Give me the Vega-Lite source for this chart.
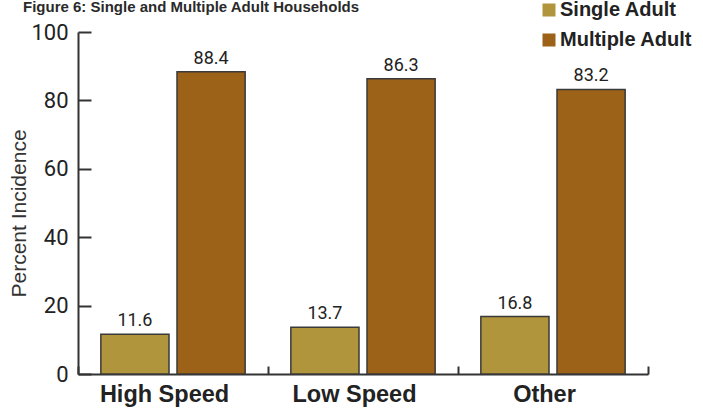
{
  "$schema": "https://vega.github.io/schema/vega-lite/v6.json",
  "width": 570,
  "height": 342,
  "autosize": {"type": "none"},
  "padding": {"left": 78, "top": 32, "right": 55, "bottom": 38},
  "background": "white",
  "title": {
    "text": "Figure 6: Single and Multiple Adult Households",
    "anchor": "start",
    "frame": "group",
    "dx": -55,
    "font": "Liberation Sans",
    "fontSize": 15,
    "fontWeight": "bold",
    "color": "#2a2a2a",
    "baseline": "bottom",
    "offset": 0,
    "dy": 30
  },
  "config": {
    "view": {"stroke": null},
    "legend": {
      "orient": "none",
      "legendX": 461,
      "legendY": -32,
      "title": null,
      "symbolType": "square",
      "symbolSize": 169,
      "symbolStrokeWidth": 0,
      "labelFont": "Liberation Sans",
      "labelFontSize": 20,
      "labelFontWeight": "bold",
      "labelColor": "#222",
      "rowPadding": 10,
      "labelOffset": 1
    }
  },
  "data": {
    "values": [
      {"type": "High Speed", "group": "Single Adult", "value": 11.6},
      {"type": "High Speed", "group": "Multiple Adult", "value": 88.4},
      {"type": "Low Speed", "group": "Single Adult", "value": 13.7},
      {"type": "Low Speed", "group": "Multiple Adult", "value": 86.3},
      {"type": "Other", "group": "Single Adult", "value": 16.8},
      {"type": "Other", "group": "Multiple Adult", "value": 83.2}
    ]
  },
  "encoding": {
    "x": {
      "field": "type",
      "type": "nominal",
      "sort": ["High Speed", "Low Speed", "Other"],
      "scale": {"paddingInner": 0, "paddingOuter": 0},
      "axis": {
        "title": null,
        "labelAngle": 0,
        "labelFont": "Liberation Sans",
        "labelFontSize": 23.5,
        "labelFontWeight": "bold",
        "labelColor": "#222",
        "labelPadding": 16,
        "labelOffset": -9,
        "domainColor": "#333",
        "domainWidth": 2,
        "tickColor": "#333",
        "tickWidth": 2,
        "tickSize": -8,
        "tickBand": "extent"
      }
    },
    "xOffset": {
      "field": "group",
      "type": "nominal",
      "sort": ["Single Adult", "Multiple Adult"],
      "scale": {"paddingInner": 0.105, "paddingOuter": 0.3}
    }
  },
  "layer": [
    {
      "mark": {"type": "bar", "stroke": "#3a3a3a", "strokeWidth": 1.5},
      "encoding": {
        "y": {
          "field": "value",
          "type": "quantitative",
          "scale": {"domain": [0, 100]},
          "axis": {
            "title": "Percent Incidence",
            "titleFont": "Liberation Sans",
            "titleFontSize": 21,
            "titleFontWeight": "normal",
            "titleColor": "#333",
            "titlePadding": 1,
            "titleY": 181,
            "values": [0, 20, 40, 60, 80, 100],
            "labelFont": "Roboto",
            "labelFontSize": 22,
            "labelColor": "#222",
            "labelPadding": 23,
            "grid": false,
            "domainColor": "#333",
            "domainWidth": 2,
            "tickColor": "#333",
            "tickWidth": 2,
            "tickSize": -13
          }
        },
        "color": {
          "field": "group",
          "type": "nominal",
          "sort": ["Single Adult", "Multiple Adult"],
          "scale": {"domain": ["Single Adult", "Multiple Adult"], "range": ["#B0953D", "#9C6318"]}
        }
      }
    },
    {
      "mark": {"type": "text", "baseline": "bottom", "dy": -4, "font": "Roboto", "fontSize": 18, "color": "#222"},
      "encoding": {
        "y": {"field": "value", "type": "quantitative"},
        "text": {"field": "value", "type": "quantitative", "format": ".1f"}
      }
    }
  ]
}
